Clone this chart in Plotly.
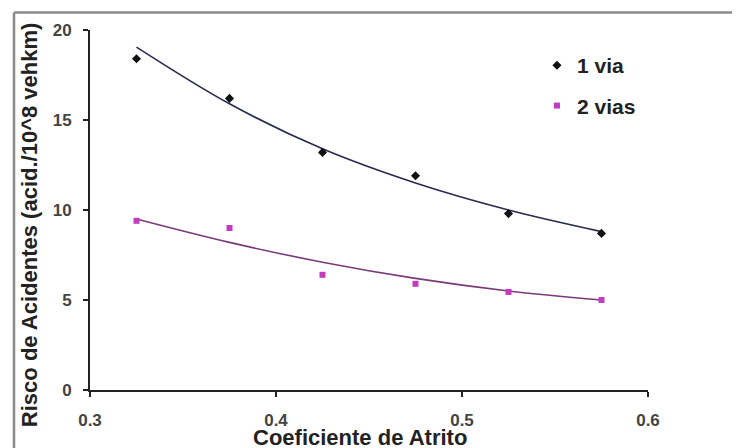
import plotly.graph_objects as go

# Data
coef_atrito = [0.325, 0.375, 0.425, 0.475, 0.525, 0.575]
risco_1_via = [18.4, 16.2, 13.2, 11.9, 9.8, 8.7]
risco_2_vias = [9.4, 9.0, 6.4, 5.9, 5.45, 5.0]
# trend curves as drawn in the picture (values read at the same x positions)
tendencia_1_via = [19.05, 15.9, 13.4, 11.5, 10.0, 8.8]
tendencia_2_vias = [9.5, 8.2, 7.1, 6.2, 5.5, 5.0]

x_ticks = [0.3, 0.4, 0.5, 0.6]
y_ticks = [0, 5, 10, 15, 20]

FONT = "Arial, 'Liberation Sans', sans-serif"

fig = go.Figure()

fig.add_trace(go.Scatter(
    x=coef_atrito, y=tendencia_1_via, mode="lines", line_shape="spline",
    line=dict(color="#2a2a50", width=1.6), showlegend=False, hoverinfo="skip"))
fig.add_trace(go.Scatter(
    x=coef_atrito, y=tendencia_2_vias, mode="lines", line_shape="spline",
    line=dict(color="#7a3a7a", width=1.6), showlegend=False, hoverinfo="skip"))

fig.add_trace(go.Scatter(
    x=coef_atrito, y=risco_1_via, mode="markers", name="1 via", legendgroup="a",
    marker=dict(symbol="diamond", size=7, color="#111111")))
fig.add_trace(go.Scatter(
    x=coef_atrito, y=risco_2_vias, mode="markers", name="2 vias", legendgroup="b",
    marker=dict(symbol="square", size=6, color="#c23cc2")))

axis_common = dict(
    showline=True, linecolor="#222222", linewidth=2,
    ticks="outside", ticklen=5, tickwidth=1.5, tickcolor="#222222",
    showgrid=False, zeroline=False,
    tickfont=dict(family=FONT, size=17, color="#444444", weight="bold"),
)

fig.update_layout(
    width=732, height=440,
    margin=dict(l=82, r=92, t=22, b=58),
    paper_bgcolor="white", plot_bgcolor="white",
    font=dict(family=FONT),
    xaxis=dict(range=[0.3, 0.6], tickvals=x_ticks, ticktext=["0.3", "0.4", "0.5", "0.6"],
               ticklabelstandoff=9, **axis_common),
    yaxis=dict(range=[0, 20], tickvals=y_ticks, ticklabelstandoff=8, **axis_common),
    legend=dict(x=0.801, y=0.958, xanchor="left", yanchor="top",
                bgcolor="rgba(0,0,0,0)", tracegroupgap=10,
                font=dict(family=FONT, size=21, color="#222222", weight="bold")),
    annotations=[
        dict(text="Risco de Acidentes (acid./10^8 vehkm)", textangle=-90,
             xref="paper", yref="paper", x=-0.1093, y=0.458,
             xanchor="center", yanchor="middle", showarrow=False,
             font=dict(family=FONT, size=22, color="#222222", weight="bold")),
        dict(text="Coeficiente de Atrito",
             xref="paper", yref="paper", x=0.484, y=-0.1306,
             xanchor="center", yanchor="middle", showarrow=False,
             font=dict(family=FONT, size=22, color="#222222", weight="bold")),
    ],
    shapes=[
        dict(type="line", xref="paper", yref="paper", x0=-0.1362, x1=1.2,
             y0=1.0486, y1=1.0486, line=dict(color="#8a8a8a", width=2.5)),
        dict(type="line", xref="paper", yref="paper", x0=-0.1362, x1=-0.1362,
             y0=1.0486, y1=-0.2, line=dict(color="#8a8a8a", width=2.5)),
    ],
)

fig.write_html("out.html")
